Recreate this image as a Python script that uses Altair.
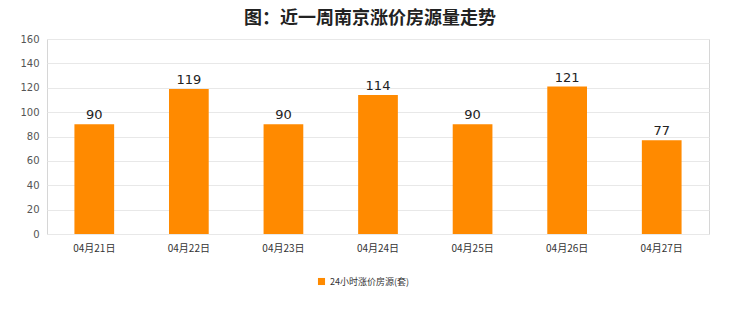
import altair as alt
import pandas as pd

dates = ["04月21日", "04月22日", "04月23日", "04月24日", "04月25日", "04月26日", "04月27日"]
counts = [90, 119, 90, 114, 90, 121, 77]
series_name = "24小时涨价房源(套)"

df = pd.DataFrame({"date": dates, "count": counts, "series": [series_name] * len(dates)})

FONT = "Noto Sans CJK SC"

base = alt.Chart(df).encode(
    x=alt.X("date:N", sort=dates, title=None,
            scale=alt.Scale(paddingInner=0.58, paddingOuter=0.29),
            axis=alt.Axis(labelAngle=0, labelFontSize=10, labelColor="#333333",
                          labelFont=FONT, domain=False, ticks=False, labelPadding=9)),
    y=alt.Y("count:Q", title=None,
            scale=alt.Scale(domain=[0, 160]),
            axis=alt.Axis(values=list(range(0, 161, 20)), labelFontSize=10,
                          labelColor="#555555", labelFont="DejaVu Sans",
                          domain=False, ticks=False, labelPadding=8,
                          grid=True, gridColor="#e8e8e8")),
)

bars = base.mark_bar(color="#ff8a00").encode(
    color=alt.Color("series:N", title=None,
                    scale=alt.Scale(domain=[series_name], range=["#ff8a00"]),
                    legend=alt.Legend(orient="none", legendX=270, legendY=238,
                                      symbolType="square", symbolSize=50,
                                      labelFontSize=9, labelColor="#333333",
                                      labelFont=FONT))
)

labels = base.mark_text(dy=-9, fontSize=13, color="#222222", font="DejaVu Sans").encode(
    text="count:Q"
)

chart = (bars + labels).properties(
    width=662, height=195,
    title=alt.TitleParams("图：近一周南京涨价房源量走势", fontSize=18, font=FONT,
                          fontWeight="bold", color="#222222", anchor="middle",
                          dx=-8, offset=6),
    padding={"left": 47, "top": 39, "right": 31, "bottom": 78},
    autosize=alt.AutoSizeParams(type="none"),
    background="#ffffff",
).configure_view(stroke="#d6d6d6", strokeWidth=1)

chart.save("out.html", embed_options={"renderer": "svg", "actions": False})
